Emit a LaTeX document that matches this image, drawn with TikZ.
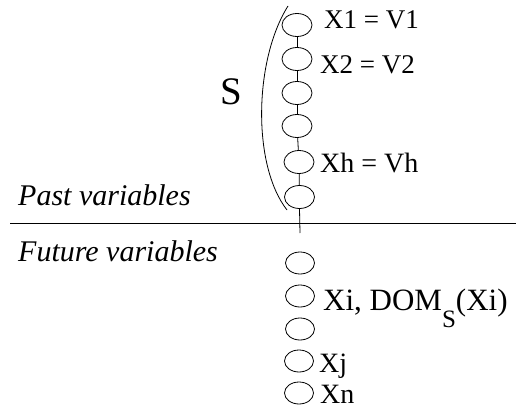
\documentclass[tikz,border=0pt]{standalone}
\usepackage{fontspec}
\setmainfont{Liberation Serif}
\usetikzlibrary{shapes.geometric}
\begin{document}
\begin{tikzpicture}[x=1pt,y=-1pt,
  var/.style={ellipse, draw, minimum width=30pt, minimum height=23pt, inner sep=0pt, line width=0.8pt},
  fvar/.style={var, minimum width=29pt, minimum height=22pt},
  lab/.style={anchor=base west, inner sep=0pt},
  edge/.style={line width=0.8pt}]
\useasboundingbox (0,0) rectangle (516,414);
% past variables
\node[var] (e1) at (297,25) {};
\node[var] (e2) at (297,59) {};
\node[var] (e3) at (297,93) {};
\node[var] (e4) at (297,126) {};
\node[var] (e5) at (299,162) {};
\node[var] (e6) at (299.5,197) {};
\coordinate (tail) at (300,233);
\draw[edge] (e1) -- (e2);
\draw[edge] (e2) -- (e3);
\draw[edge] (e3) -- (e4);
\draw[edge] (e4) -- (e5);
\draw[edge] (e5) -- (e6);
\draw[edge] (e6.south) -- (tail);
% separator
\coordinate (sepL) at (10,223);
\coordinate (sepR) at (516,223);
\draw[edge] (sepL) -- (sepR);
% bracket
\coordinate (brT) at (288,6);
\coordinate (brB) at (287,210);
\draw[edge] (brT) .. controls (254,60) and (252,165) .. (brB);
% labels
\node[lab] (l1) at (324,29) {\fontsize{27}{30}\selectfont X1 = V1};
\node[lab] (l2) at (320,74) {\fontsize{27}{30}\selectfont X2 = V2};
\node[lab] (lh) at (320,172) {\fontsize{28}{30}\selectfont Xh = Vh};
\node (S) at (231,92) {\fontsize{39}{42}\selectfont S};
\node[lab] (past) at (18,205) {\fontsize{30}{32}\selectfont\itshape Past variables};
\node[lab] (fut) at (18,261) {\fontsize{30}{32}\selectfont\itshape Future variables};
% future variables
\node[fvar] (f1) at (300,263) {};
\node[fvar] (f2) at (300,296) {};
\node[fvar] (f3) at (300,329) {};
\node[fvar] (f4) at (299,361) {};
\node[fvar] (f5) at (299,393) {};
\node[lab] (li) at (323,310) {\fontsize{31}{33}\selectfont Xi, DOM\raisebox{-17pt}{\fontsize{25}{27}\selectfont S}(Xi)};
\node[lab] (lj) at (319,372) {\fontsize{28}{30}\selectfont Xj};
\node[lab] (ln) at (320,403) {\fontsize{28}{30}\selectfont Xn};
\end{tikzpicture}
\end{document}
